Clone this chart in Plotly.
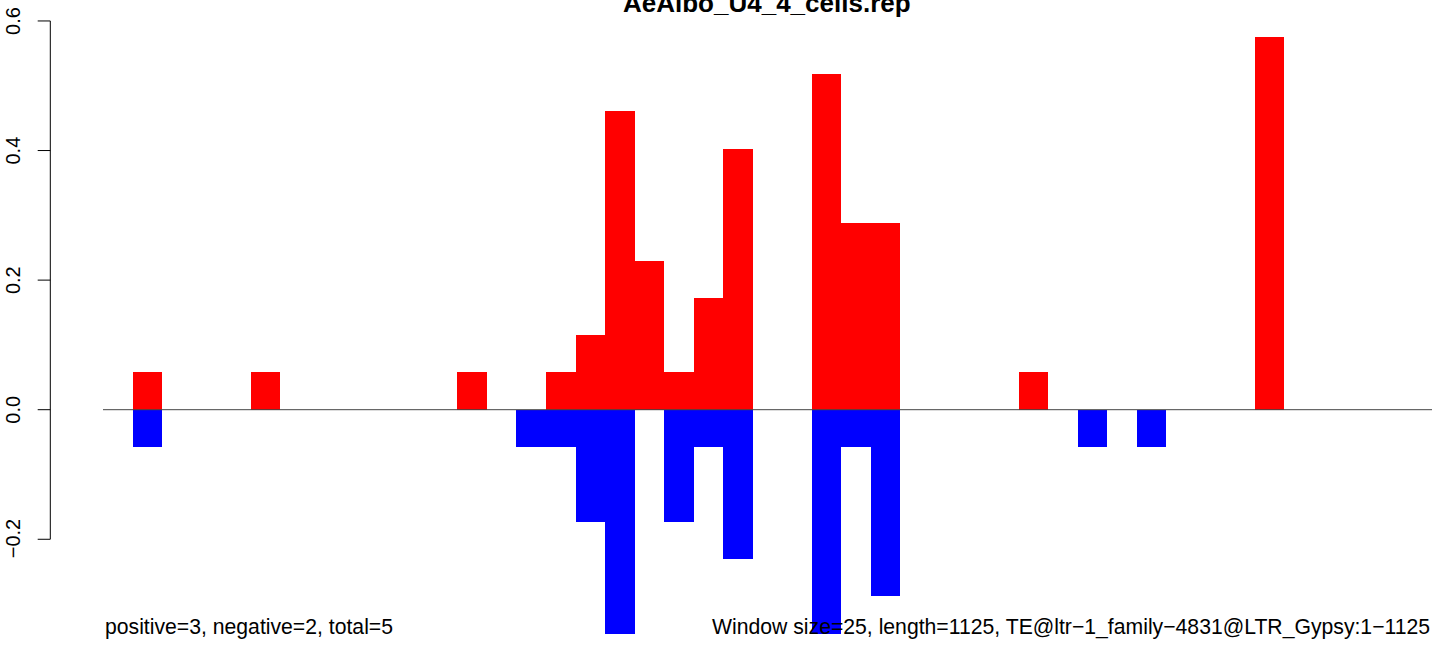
import plotly.graph_objects as go

# ---------------- data ----------------
title_text = "AeAlbo_U4_4_cells.rep"
window_size = 25
seq_length = 1125

pos_windows = [1, 5, 12, 15, 16, 17, 18, 19, 20, 21, 24, 25, 26, 31, 39]
pos_values = [0.058, 0.058, 0.058, 0.058, 0.115, 0.461, 0.230, 0.058, 0.173, 0.403,
              0.518, 0.288, 0.288, 0.058, 0.576]

neg_windows = [1, 14, 15, 16, 17, 19, 20, 21, 24, 25, 26, 33, 35]
neg_values = [-0.058, -0.058, -0.058, -0.173, -0.346, -0.173, -0.058, -0.230,
              -0.346, -0.058, -0.288, -0.058, -0.058]

ytick_vals = [-0.2, 0.0, 0.2, 0.4, 0.6]
ytick_text = ["\u22120.2", "0.0", "0.2", "0.4", "0.6"]

left_note = "positive=3, negative=2, total=5"
right_note = "Window size=25, length=1125, TE@ltr\u22121_family\u22124831@LTR_Gypsy:1\u22121125"

# ---------------- layout geometry ----------------
W, H = 1444, 646
x_px0, x_px1 = 103.0, 1432.0          # pixel span of 0 .. seq_length
ppx = (x_px1 - x_px0) / seq_length
xr = [-x_px0 / ppx, (W - x_px0) / ppx]
y_zero_px = 409.7
ppy = 647.9
yr = [-(H - y_zero_px) / ppy, y_zero_px / ppy]

def px_x(p):
    return p / W

def px_y(p):
    return 1 - p / H

font = "Liberation Sans, Arial, Helvetica, sans-serif"

fig = go.Figure()
fig.add_trace(go.Bar(
    x=[w * window_size + window_size / 2 for w in pos_windows],
    y=pos_values, width=window_size,
    marker=dict(color="#ff0000", line=dict(width=0)),
    hoverinfo="skip", showlegend=False))
fig.add_trace(go.Bar(
    x=[w * window_size + window_size / 2 for w in neg_windows],
    y=neg_values, width=window_size,
    marker=dict(color="#0000ff", line=dict(width=0)),
    hoverinfo="skip", showlegend=False))

shapes = []
# zero line
shapes.append(dict(type="line", xref="x", yref="y", x0=0, x1=seq_length, y0=0, y1=0,
                   line=dict(color="#444444", width=1), layer="above"))
# y axis line
ax_x = px_x(50.3)
shapes.append(dict(type="line", xref="paper", yref="y", x0=ax_x, x1=ax_x,
                   y0=min(ytick_vals), y1=max(ytick_vals),
                   line=dict(color="black", width=1)))
annotations = []
for v, t in zip(ytick_vals, ytick_text):
    shapes.append(dict(type="line", xref="paper", yref="y", x0=px_x(37.7), x1=ax_x,
                       y0=v, y1=v, line=dict(color="black", width=1)))
    annotations.append(dict(text=t, xref="paper", yref="y", x=px_x(13), y=v,
                            xanchor="center", yanchor="middle", textangle=-90,
                            showarrow=False, font=dict(family=font, size=20, color="black")))

annotations.append(dict(text="<b>" + title_text + "</b>", xref="paper", yref="paper",
                        x=px_x(767.5), y=px_y(2.5), xanchor="center", yanchor="middle",
                        showarrow=False, font=dict(family=font, size=26, color="black")))
annotations.append(dict(text=left_note, xref="paper", yref="paper",
                        x=px_x(x_px0), y=px_y(627), xanchor="left", yanchor="middle",
                        showarrow=False, font=dict(family=font, size=21.2, color="black")))
annotations.append(dict(text=right_note, xref="paper", yref="paper",
                        x=px_x(x_px1), y=px_y(627), xanchor="right", yanchor="middle",
                        showarrow=False, font=dict(family=font, size=21.2, color="black")))

fig.update_layout(
    width=W, height=H, margin=dict(l=0, r=0, t=0, b=0),
    paper_bgcolor="white", plot_bgcolor="white",
    barmode="overlay", bargap=0,
    xaxis=dict(range=xr, visible=False, showgrid=False, zeroline=False, fixedrange=True),
    yaxis=dict(range=yr, visible=False, showgrid=False, zeroline=False, fixedrange=True),
    shapes=shapes, annotations=annotations, showlegend=False,
)

fig.write_html(
    "out.html",
    config={"displayModeBar": False},
    post_script="document.body.style.margin='0';document.body.style.overflow='hidden';",
)
